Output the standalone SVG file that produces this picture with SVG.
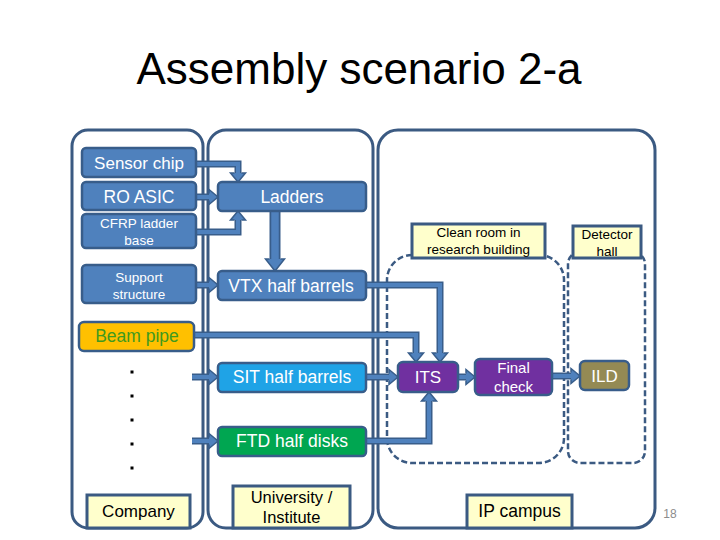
<svg xmlns="http://www.w3.org/2000/svg" width="720" height="540" viewBox="0 0 720 540">
<style>
text{font-family:"Liberation Sans",Arial,sans-serif;text-anchor:middle}
.col{fill:none;stroke:#3B5A82;stroke-width:3}
.dash{fill:none;stroke:#3B5A82;stroke-width:2.5;stroke-dasharray:6 3}
.box{stroke:#385D8A;stroke-width:2.5}
.blue{fill:#4F81BD}
.lbl{fill:#FFFFCC;stroke:#3B5A82;stroke-width:3}
.w{fill:#fff}
.k{fill:#000}
.o{fill:none;stroke:#385D8A;stroke-width:7;stroke-linejoin:miter}
.i{fill:none;stroke:#4F81BD;stroke-width:4;stroke-linejoin:miter}
.ob{fill:none;stroke:#385D8A;stroke-width:11}
.ib{fill:none;stroke:#4F81BD;stroke-width:7.5}
</style>
<defs>
<marker id="ah" markerUnits="userSpaceOnUse" markerWidth="20" markerHeight="20" refX="0" refY="0" orient="auto" overflow="visible">
<path d="M0,-3.5 L0,-7.5 L9,0 L0,7.5 L0,3.5" fill="#4F81BD" stroke="#385D8A" stroke-width="1.5"/>
</marker>
<marker id="ahb" markerUnits="userSpaceOnUse" markerWidth="30" markerHeight="30" refX="0" refY="0" orient="auto" overflow="visible">
<path d="M0,-5.5 L0,-9.5 L12,0 L0,9.5 L0,5.5" fill="#4F81BD" stroke="#385D8A" stroke-width="1.5"/>
</marker>
</defs>
<rect width="720" height="540" fill="#fff"/>
<text x="359" y="84" font-size="44" fill="#000">Assembly scenario 2-a</text>

<g id="columns">
<rect id="col-company" class="col" x="72" y="130" width="131" height="398" rx="16"/>
<rect id="col-university" class="col" x="208" y="130" width="165" height="398" rx="18"/>
<rect id="col-ip" class="col" x="378" y="130" width="277" height="398" rx="20"/>
<rect id="area-cleanroom" class="dash" x="387" y="255" width="177" height="208" rx="25"/>
<rect id="area-hall" class="dash" x="568" y="252" width="77" height="211" rx="12"/>
</g>

<g id="connectors">
<path class="o" d="M196,164 H238 V173" marker-end="url(#ah)"/><path class="i" d="M196,164 H238 V174"/>
<path class="o" d="M196,197 H209" marker-end="url(#ah)"/><path class="i" d="M196,197 H210"/>
<path class="o" d="M196,232 H238 V220" marker-end="url(#ah)"/><path class="i" d="M196,232 H238 V219"/>
<path class="o" d="M196,285 H209" marker-end="url(#ah)"/><path class="i" d="M196,285 H210"/>
<path class="ob" d="M275,211 V259" marker-end="url(#ahb)"/><path class="ib" d="M275,211 V260"/>
<path class="o" d="M366,285 H440 V353" marker-end="url(#ah)"/><path class="i" d="M366,285 H440 V354"/>
<path class="o" d="M194,335 H416 V353" marker-end="url(#ah)"/><path class="i" d="M194,335 H416 V354"/>
<path class="o" d="M366,377 H389" marker-end="url(#ah)"/><path class="i" d="M366,377 H390"/>
<path class="o" d="M366,441 H429 V401" marker-end="url(#ah)"/><path class="i" d="M366,441 H429 V400"/>
<path class="o" d="M192,377 H209" marker-end="url(#ah)"/><path class="i" d="M192,377 H210"/>
<path class="o" d="M192,441 H209" marker-end="url(#ah)"/><path class="i" d="M192,441 H210"/>
<path class="o" d="M458,377 H466" marker-end="url(#ah)"/><path class="i" d="M458,377 H467"/>
<path class="o" d="M552,376 H571" marker-end="url(#ah)"/><path class="i" d="M552,376 H572"/>
</g>

<g id="sensor-chip"><rect class="box blue" x="82" y="148" width="114" height="29" rx="4"/><text class="w" x="139" y="169" font-size="17">Sensor chip</text></g>
<g id="ro-asic"><rect class="box blue" x="82" y="182" width="114" height="28" rx="4"/><text class="w" x="139" y="203" font-size="17.5">RO ASIC</text></g>
<g id="cfrp"><rect class="box blue" x="82" y="214" width="114" height="34" rx="4"/><text class="w" x="139" y="228" font-size="13.5">CFRP ladder</text><text class="w" x="139" y="245" font-size="13.5">base</text></g>
<g id="support"><rect class="box blue" x="82" y="265" width="114" height="38" rx="4"/><text class="w" x="139" y="282" font-size="13.5">Support</text><text class="w" x="139" y="299" font-size="13.5">structure</text></g>
<g id="beam-pipe"><rect class="box" fill="#FFC000" x="79" y="322" width="115" height="29" rx="5"/><text fill="#3F9A1F" x="137" y="342" font-size="17.5">Beam pipe</text></g>
<g id="dots" fill="#000"><rect x="130.5" y="370.5" width="3" height="3"/><rect x="130.5" y="394.5" width="3" height="3"/><rect x="130.5" y="418.5" width="3" height="3"/><rect x="130.5" y="442.5" width="3" height="3"/><rect x="130.5" y="466.5" width="3" height="3"/></g>
<g id="company"><rect class="lbl" x="87" y="495" width="103" height="33"/><text class="k" x="138.5" y="517" font-size="17">Company</text></g>

<g id="ladders"><rect class="box blue" x="218" y="182" width="148" height="29" rx="4"/><text class="w" x="292" y="203" font-size="17.5">Ladders</text></g>
<g id="vtx"><rect class="box blue" x="218" y="271" width="148" height="29" rx="4"/><text class="w" x="291" y="292" font-size="17.5">VTX half barrels</text></g>
<g id="sit"><rect class="box" fill="#1FA3E6" x="218" y="363" width="148" height="29" rx="4"/><text class="w" x="292" y="383" font-size="17.5">SIT half barrels</text></g>
<g id="ftd"><rect class="box" fill="#00A651" x="218" y="427" width="148" height="29" rx="4"/><text class="w" x="292" y="447" font-size="17.5">FTD half disks</text></g>
<g id="university"><rect class="lbl" x="233" y="486" width="117" height="42"/><text class="k" x="291.5" y="503" font-size="16.5">University /</text><text class="k" x="291.5" y="523" font-size="16.5">Institute</text></g>

<g id="cleanroom-label"><rect class="lbl" x="412" y="224" width="133" height="34"/><text class="k" x="478.5" y="237" font-size="13.5">Clean room in</text><text class="k" x="478.5" y="254" font-size="13.5">research building</text></g>
<g id="hall-label"><rect class="lbl" x="573" y="226" width="68" height="32"/><text class="k" x="607" y="239" font-size="13.5">Detector</text><text class="k" x="607" y="256" font-size="13.5">hall</text></g>
<g id="its"><rect class="box" fill="#7030A0" x="398" y="362" width="60" height="30" rx="5"/><text class="w" x="428" y="383" font-size="17">ITS</text></g>
<g id="final-check"><rect class="box" fill="#7030A0" x="475" y="359" width="77" height="36" rx="5"/><text class="w" x="513.5" y="373" font-size="15">Final</text><text class="w" x="513.5" y="392" font-size="15">check</text></g>
<g id="ild"><rect class="box" fill="#948A54" x="580" y="361" width="49" height="29" rx="5"/><text class="w" x="604.5" y="382" font-size="17">ILD</text></g>
<g id="ip-campus"><rect class="lbl" x="467" y="495" width="105" height="33"/><text class="k" x="519.5" y="517" font-size="17.5">IP campus</text></g>

<text x="670" y="518" font-size="12" fill="#8C8C8C">18</text>
</svg>
